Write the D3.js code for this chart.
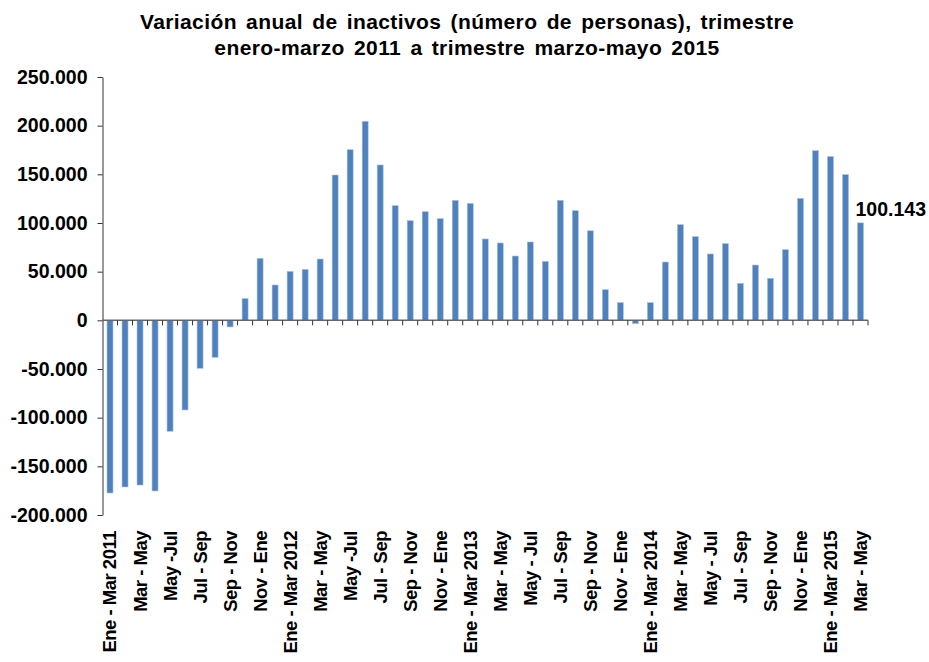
<!DOCTYPE html>
<html>
<head>
<meta charset="utf-8">
<script src="https://cdn.jsdelivr.net/npm/d3@7"></script>
<style>
  body { margin: 0; background: #fff; }
  svg { display: block; font-family: "Liberation Sans", Arial, sans-serif; }
</style>
</head>
<body>
<svg id="chart"></svg>
<script>
// rolling quarters, Ene-Mar 2011 .. Mar-May 2015
const categories = [
  "Ene - Mar 2011", "Feb - Abr", "Mar - May", "Abr - Jun", "May -Jul", "Jun - Ago",
  "Jul - Sep", "Ago - Oct", "Sep - Nov", "Oct - Dic", "Nov - Ene", "Dic - Feb",
  "Ene - Mar 2012", "Feb - Abr", "Mar - May", "Abr - Jun", "May -Jul", "Jun - Ago",
  "Jul - Sep", "Ago - Oct", "Sep - Nov", "Oct - Dic", "Nov - Ene", "Dic - Feb",
  "Ene - Mar 2013", "Feb - Abr", "Mar - May", "Abr - Jun", "May - Jul", "Jun - Ago",
  "Jul - Sep", "Ago - Oct", "Sep - Nov", "Oct - Dic", "Nov - Ene", "Dic - Feb",
  "Ene - Mar 2014", "Feb - Abr", "Mar - May", "Abr - Jun", "May - Jul", "Jun - Ago",
  "Jul - Sep", "Ago - Oct", "Sep - Nov", "Oct - Dic", "Nov - Ene", "Dic - Feb",
  "Ene - Mar 2015", "Feb - Abr", "Mar - May"
];

const values = [
  -177400, -171200, -169200, -175300, -114000, -92100, -49300, -38000, -6800, 22300,
  63700, 36300, 50300, 52300, 63000, 149300, 175300, 204500, 159600, 117800,
  102400, 111600, 104500, 123300, 120200, 83600, 79500, 66100, 80500, 60600,
  123300, 112700, 92000, 31500, 18200, -3400, 18200, 59900, 98300, 86000,
  68200, 78800, 38000, 56800, 43200, 72600, 125300, 174300, 168200, 149700,
  100143
];

const yTicks = [-200000, -150000, -100000, -50000, 0, 50000, 100000, 150000, 200000, 250000];

const titleLines = [
  "Variación anual de inactivos (número de personas), trimestre",
  "enero-marzo 2011 a trimestre marzo-mayo 2015"
];

const W = 929, H = 662;
const margin = { top: 77, right: 61, bottom: 147, left: 102.5 };
const width = W - margin.left - margin.right;
const height = H - margin.top - margin.bottom;

const svg = d3.select("#chart").attr("width", W).attr("height", H);

const esLocale = d3.formatLocale({
  decimal: ",", thousands: ".", grouping: [3], currency: ["", ""], minus: "-"
});
const fmt = esLocale.format(",d");

// title
svg.append("g")
  .selectAll("text")
  .data(titleLines)
  .enter()
  .append("text")
  .attr("x", 467)
  .attr("y", (d, i) => 29 + i * 26)
  .attr("text-anchor", "middle")
  .style("font-size", "21px")
  .style("font-weight", "bold")
  .style("letter-spacing", "0.4px")
  .style("word-spacing", "3px")
  .text((d) => d);

const g = svg.append("g")
  .attr("transform", `translate(${margin.left},${margin.top})`);

const idx = categories.map((d, i) => i);

const x = d3.scaleBand()
  .domain(idx)
  .range([0, width])
  .paddingInner(0.6)
  .paddingOuter(0.3);

const y = d3.scaleLinear().domain([-200000, 250000]).range([height, 0]);

// y axis
const yAxis = g.append("g")
  .call(d3.axisLeft(y).tickValues(yTicks).tickFormat(fmt).tickSize(5).tickSizeOuter(0));
yAxis.select(".domain").attr("stroke", "#333");
yAxis.selectAll(".tick line").attr("stroke", "#333");
yAxis.selectAll("text")
  .attr("x", -15)
  .style("font-size", "19.5px")
  .style("font-weight", "bold")
  .style("fill", "#000")
  .style("font-family", "'Liberation Sans', Arial, sans-serif");

// bars
g.selectAll(".bar")
  .data(values)
  .enter()
  .append("rect")
  .attr("class", "bar")
  .attr("x", (d, i) => x(i))
  .attr("y", (d) => y(Math.max(0, d)))
  .attr("width", x.bandwidth())
  .attr("height", (d) => Math.abs(y(d) - y(0)))
  .attr("fill", "#4f81bd")
  .attr("stroke", "#a9c1e2")
  .attr("stroke-width", 0.6);

// zero axis with ticks at category boundaries
const step = x.step();
const boundaries = idx.map((i) => x(i) - (step - x.bandwidth()) / 2).concat([width]);
const zero = g.append("g").attr("transform", `translate(0,${y(0)})`);
zero.append("line")
  .attr("x1", 0).attr("x2", width)
  .attr("stroke", "#666").attr("stroke-width", 1.5);
zero.selectAll(".tk")
  .data(boundaries.slice(1))
  .enter()
  .append("line")
  .attr("class", "tk")
  .attr("x1", (d) => d).attr("x2", (d) => d)
  .attr("y1", 0).attr("y2", 5)
  .attr("stroke", "#333");

// category labels (every other one)
g.append("g")
  .selectAll("text")
  .data(idx.filter((i) => i % 2 === 0))
  .enter()
  .append("text")
  .attr("transform", (i) => `translate(${x(i) + x.bandwidth() / 2},${height + 16}) rotate(-90)`)
  .attr("dy", "0.35em")
  .attr("text-anchor", "end")
  .style("font-size", "18.5px")
  .style("font-weight", "bold")
  .style("letter-spacing", "-0.5px")
  .text((i) => categories[i]);

// last value label
const last = values.length - 1;
g.append("text")
  .attr("x", x(last) - 2)
  .attr("y", y(values[last]) - 7)
  .style("font-size", "19.5px")
  .style("font-weight", "bold")
  .text(fmt(values[last]));
</script>
</body>
</html>
